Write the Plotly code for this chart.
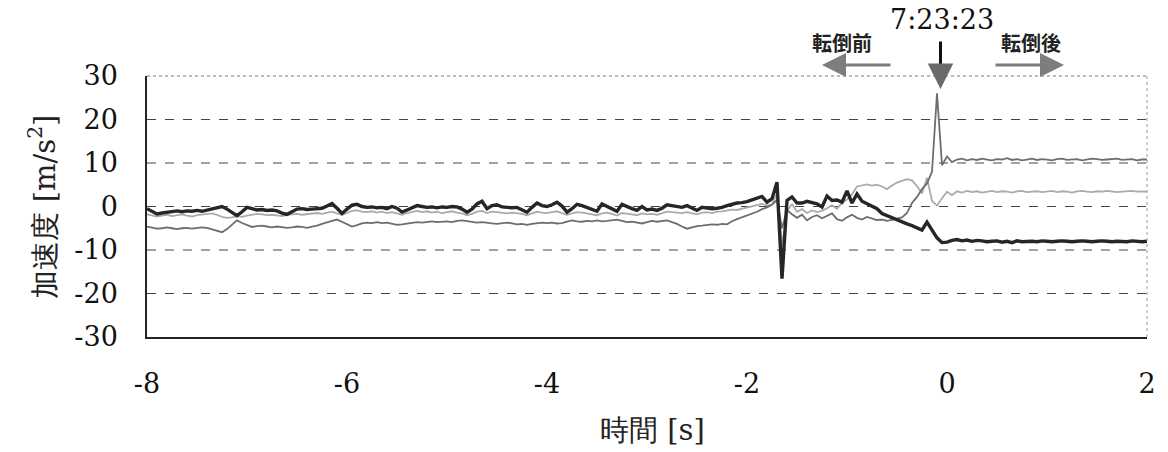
import numpy as np
import plotly.graph_objects as go

# Time axis [s], 0.05 s sampling from -8 to 2
time_s = np.round(np.arange(-8.0, 2.0001, 0.05), 2)

# Acceleration [m/s^2], one row per second of data
accel_dark = [
    -0.5, -1.2, -1.7, -1.5, -1.3, -1.1, -1.0, -1.2, -1.0, -1.1, -0.9, -1.1, -0.8, -0.6, -0.3, 0.0, -0.6, -1.4, -2.1, -1.2,
    -0.2, -0.5, -0.8, -0.7, -0.9, -0.8, -1.0, -1.5, -1.8, -1.2, -0.6, -0.5, -0.7, -0.6, -0.5, -0.4, 0.1, 0.7, -0.4, -1.6,
    -0.6, 0.3, 0.5, 0.0, -0.2, -0.1, -0.3, -0.2, -0.5, 0.0, -0.4, -1.3, -0.8, -0.3, 0.2, 0.0, -0.2, -0.1, -0.3, -0.1,
    -0.2, 0.0, -0.1, -0.6, -1.3, -0.6, 0.6, 1.2, -0.5, 0.2, 0.4, -0.1, -0.2, -0.3, -0.2, -0.8, -1.3, -0.2, 0.8, 0.2,
    0.0, 0.4, 1.0, 0.1, -1.3, -0.5, 0.5, 0.2, -0.2, -0.6, -1.1, 0.6, 0.0, -0.5, -1.1, 0.5, -0.1, -0.5, -0.9, 0.0,
    -0.8, -0.6, -0.9, -0.4, 0.4, 0.2, 0.0, -0.2, 0.2, -0.4, -0.9, -0.2, -0.3, -0.5, -0.4, -0.2, 0.2, 0.6, 0.8, 0.9,
    1.1, 1.5, 2.0, 2.3, 1.0, 1.8, 5.6, -16.6, 1.4, 2.2, 0.8, 0.8, 1.2, 0.8, 0.6, -0.1, 2.4, 1.4, 1.5, 1.0,
    3.6, 0.8, 2.9, 1.2, 0.6, 0.2, -0.5, -1.6, -2.1, -2.6, -3.2, -3.5, -4.0, -4.4, -4.8, -5.4, -3.6, -5.5, -7.2, -8.3,
    -8.2, -7.8, -7.6, -7.9, -7.7, -8.0, -7.8, -7.9, -8.1, -8.0, -7.9, -8.2, -8.0, -8.3, -7.9, -8.1, -8.0, -8.0, -8.1, -7.9,
    -8.0, -8.1, -8.0, -7.9, -8.0, -8.1, -8.0, -7.9, -8.0, -8.1, -8.0, -7.9, -8.0, -8.1, -8.0, -8.0, -8.1, -7.9, -8.0, -8.1,
    -8.0,
]

accel_mid = [
    -4.6, -4.9, -5.1, -5.0, -4.8, -5.0, -5.2, -5.0, -4.9, -5.1, -5.0, -4.8, -4.9, -5.2, -5.6, -5.9, -5.2, -4.2, -3.2, -3.8,
    -4.3, -4.7, -4.5, -4.4, -4.6, -4.8, -4.6, -4.7, -4.9, -4.8, -4.6, -4.7, -4.9, -4.6, -4.4, -4.0, -3.6, -3.3, -3.0, -3.5,
    -4.1, -4.6, -4.3, -3.9, -3.7, -3.8, -3.6, -3.8, -3.7, -3.9, -4.2, -4.1, -3.9, -3.8, -3.6, -3.7, -3.5, -3.4, -3.6, -3.5,
    -3.4, -3.6, -3.3, -3.2, -3.4, -3.5, -3.7, -3.6, -3.8, -3.9, -4.0, -3.8, -3.7, -3.9, -4.1, -4.0, -4.2, -4.0, -3.9, -3.7,
    -3.8, -3.7, -3.9, -3.8, -3.5, -3.2, -3.4, -3.5, -3.3, -3.4, -3.2, -3.4, -3.3, -3.1, -3.0, -3.3, -3.6, -3.5, -3.7, -3.9,
    -3.6, -3.3, -3.5, -3.4, -3.2, -3.6, -4.0, -4.6, -5.1, -4.8, -4.5, -4.4, -4.2, -4.1, -4.2, -4.0, -4.1, -3.4, -2.9, -2.5,
    -2.1, -1.7, -1.2, -0.6, -0.2, 0.4, 1.5, -5.0, -0.8, -1.8, -2.6, -1.9, -3.2, -2.4, -2.0, -2.7, -2.2, -1.6, -2.9, -3.3,
    -2.5, -1.9, -2.6, -3.0, -2.4, -2.8, -3.1, -3.0, -3.3, -3.1, -2.8, -2.5, -1.5, 0.8, 2.2, 4.0, 5.3, 8.0, 26.0, 9.5,
    11.5, 10.2, 10.8, 11.0, 10.6, 10.9, 10.7, 11.0, 10.8, 10.6, 10.9, 10.8, 11.1, 10.7, 10.9, 10.6, 10.8, 11.0, 10.7, 10.9,
    10.8, 10.6, 10.9, 11.0, 10.7, 10.8, 10.9, 10.6, 10.8, 11.0, 10.9, 10.7, 10.8, 10.9, 11.0, 10.7, 10.8, 10.9, 10.6, 10.8,
    10.8,
]

accel_light = [
    -1.8, -2.0, -2.3, -2.1, -1.9, -2.2, -2.0, -1.8, -2.1, -2.3, -2.0, -1.9, -1.7, -1.6, -1.9, -2.4, -2.6, -2.5, -2.2, -2.4,
    -2.1, -1.9, -1.7, -1.8, -2.0, -1.9, -2.1, -2.2, -1.9, -1.8, -1.7, -1.9, -1.8, -1.6, -1.5, -1.7, -1.4, -1.2, -1.6, -1.9,
    -1.5, -1.0, -0.9, -1.2, -1.3, -1.1, -1.4, -1.2, -1.5, -1.3, -1.6, -1.9, -1.5, -1.2, -1.0, -1.3, -1.1, -1.4, -1.2, -1.5,
    -1.3, -1.1, -1.4, -1.6, -2.0, -1.7, -1.2, -1.0, -1.5, -1.2, -1.3, -1.5, -1.6, -1.4, -1.5, -1.7, -2.0, -1.6, -1.2, -1.4,
    -1.5, -1.3, -1.1, -1.5, -1.9, -1.6, -1.3, -1.4, -1.6, -1.8, -2.0, -1.6, -1.4, -1.7, -2.1, -1.5, -1.6, -1.8, -2.0, -1.6,
    -1.8, -1.7, -1.9, -1.6, -1.2, -1.3, -1.4, -1.5, -1.3, -1.6, -1.8, -1.4, -1.3, -1.5, -1.2, -1.1, -0.9, -0.7, -0.8, -0.5,
    -0.3, 0.0, 0.3, 0.6, 0.2, 0.5, 3.0, -9.0, -1.0, 0.5, -1.2, -0.6, -1.5, -0.9, -1.3, -1.0, -0.4, 0.3, -0.5, 0.8,
    1.6, 2.8, 4.6, 4.9, 5.1, 4.8, 5.0, 4.6, 4.0, 4.8, 5.5, 5.9, 6.3, 6.0, 4.7, 3.0, 6.6, 1.3, 0.2, 1.9,
    3.4, 2.6, 3.5, 3.2, 3.6, 3.3, 3.5, 3.2, 3.4, 3.6, 3.3, 3.5, 3.4, 3.2, 3.5, 3.6, 3.3, 3.4, 3.5, 3.3,
    3.4, 3.6, 3.3, 3.5, 3.4, 3.2, 3.5, 3.6, 3.4, 3.3, 3.5, 3.4, 3.6, 3.5, 3.3, 3.4, 3.5, 3.6, 3.4, 3.5,
    3.4,
]

x_ticks = [-8, -6, -4, -2, 0, 2]
x_tick_text = ["-8", "-6", "-4", "-2", "0", "2"]
y_ticks = [-30, -20, -10, 0, 10, 20, 30]
y_tick_text = ["-30", "-20", "-10", "0", "10", "20", "30"]
grid_levels = [-20, -10, 0, 10, 20]

event_label = "7:23:23"
before_label = "転倒前"
after_label = "転倒後"

SERIF = "DejaVu Serif"
SANS_JP = "Noto Sans CJK JP"

fig = go.Figure()
fig.add_trace(go.Scatter(x=time_s, y=accel_light, mode="lines",
                         line=dict(color="#ababab", width=1.8), showlegend=False))
fig.add_trace(go.Scatter(x=time_s, y=accel_mid, mode="lines",
                         line=dict(color="#6e6e6e", width=1.8), showlegend=False))
fig.add_trace(go.Scatter(x=time_s, y=accel_dark, mode="lines",
                         line=dict(color="#262626", width=3.4), showlegend=False))

# dashed horizontal grid
for g in grid_levels:
    fig.add_shape(type="line", xref="paper", x0=0, x1=1, yref="y", y0=g, y1=g,
                  line=dict(color="#444444", width=1, dash="9px,9px"), layer="below")
# dotted top and right frame
fig.add_shape(type="line", xref="paper", x0=0, x1=1, yref="paper", y0=1, y1=1,
              line=dict(color="#777777", width=1, dash="dot"))
fig.add_shape(type="line", xref="paper", x0=1, x1=1, yref="paper", y0=0, y1=1,
              line=dict(color="#999999", width=1, dash="dot"))

fig.update_xaxes(range=[-8, 2], tickvals=x_ticks, ticktext=x_tick_text,
                 showgrid=False, zeroline=False, showline=True, linecolor="#222222",
                 linewidth=1.5, ticks="", ticklabelstandoff=22,
                 tickfont=dict(family=SERIF, size=27, color="#111111"))
fig.update_yaxes(range=[-30, 30], tickvals=y_ticks, ticktext=y_tick_text,
                 showgrid=False, zeroline=False, showline=True, linecolor="#222222",
                 linewidth=1.5, ticks="", ticklabelstandoff=22,
                 tickfont=dict(family=SERIF, size=27, color="#111111"))

annotations = [
    dict(text="加速度 [m/s<sup>2</sup>]", xref="paper", yref="paper", x=-0.105, y=0.5,
         textangle=-90, showarrow=False, xanchor="center", yanchor="middle",
         font=dict(family=SERIF, size=29, color="#222222")),
    dict(text="時間 [s]", xref="paper", yref="paper", x=0.505, y=-0.355,
         showarrow=False, xanchor="center", yanchor="middle",
         font=dict(family=SERIF, size=29, color="#222222")),
    dict(text=event_label, xref="paper", yref="paper", x=0.795, y=1.215,
         showarrow=False, xanchor="center", yanchor="middle",
         font=dict(family=SERIF, size=27, color="#111111")),
    dict(text=before_label, xref="paper", yref="paper", x=0.695, y=1.13,
         showarrow=False, xanchor="center", yanchor="middle",
         font=dict(family=SANS_JP, size=20, color="#222222", weight="bold")),
    dict(text=after_label, xref="paper", yref="paper", x=0.884, y=1.13,
         showarrow=False, xanchor="center", yanchor="middle",
         font=dict(family=SANS_JP, size=20, color="#222222", weight="bold")),
    # left / right gray arrows
    dict(text="", xref="paper", yref="paper", x=0.675, y=1.042, ax=70, ay=0,
         showarrow=True, arrowhead=2, arrowsize=1.6, arrowwidth=3, arrowcolor="#7d7d7d"),
    dict(text="", xref="paper", yref="paper", x=0.917, y=1.042, ax=-70, ay=0,
         showarrow=True, arrowhead=2, arrowsize=1.6, arrowwidth=3, arrowcolor="#7d7d7d"),
    # down arrow: black shaft, gray head
    dict(text="", xref="paper", yref="paper", x=0.7935, y=1.0, ax=0, ay=-36,
         showarrow=True, arrowhead=0, arrowwidth=3, arrowcolor="#111111"),
    dict(text="", xref="paper", yref="paper", x=0.7935, y=0.95, ax=0, ay=-12,
         showarrow=True, arrowhead=2, arrowsize=1.7, arrowwidth=3, arrowcolor="#6a6a6a"),
]
fig.update_layout(
    width=1168, height=452,
    margin=dict(l=147, r=13, t=76, b=115),
    paper_bgcolor="white", plot_bgcolor="white",
    annotations=annotations,
)

fig.write_html("out.html")
